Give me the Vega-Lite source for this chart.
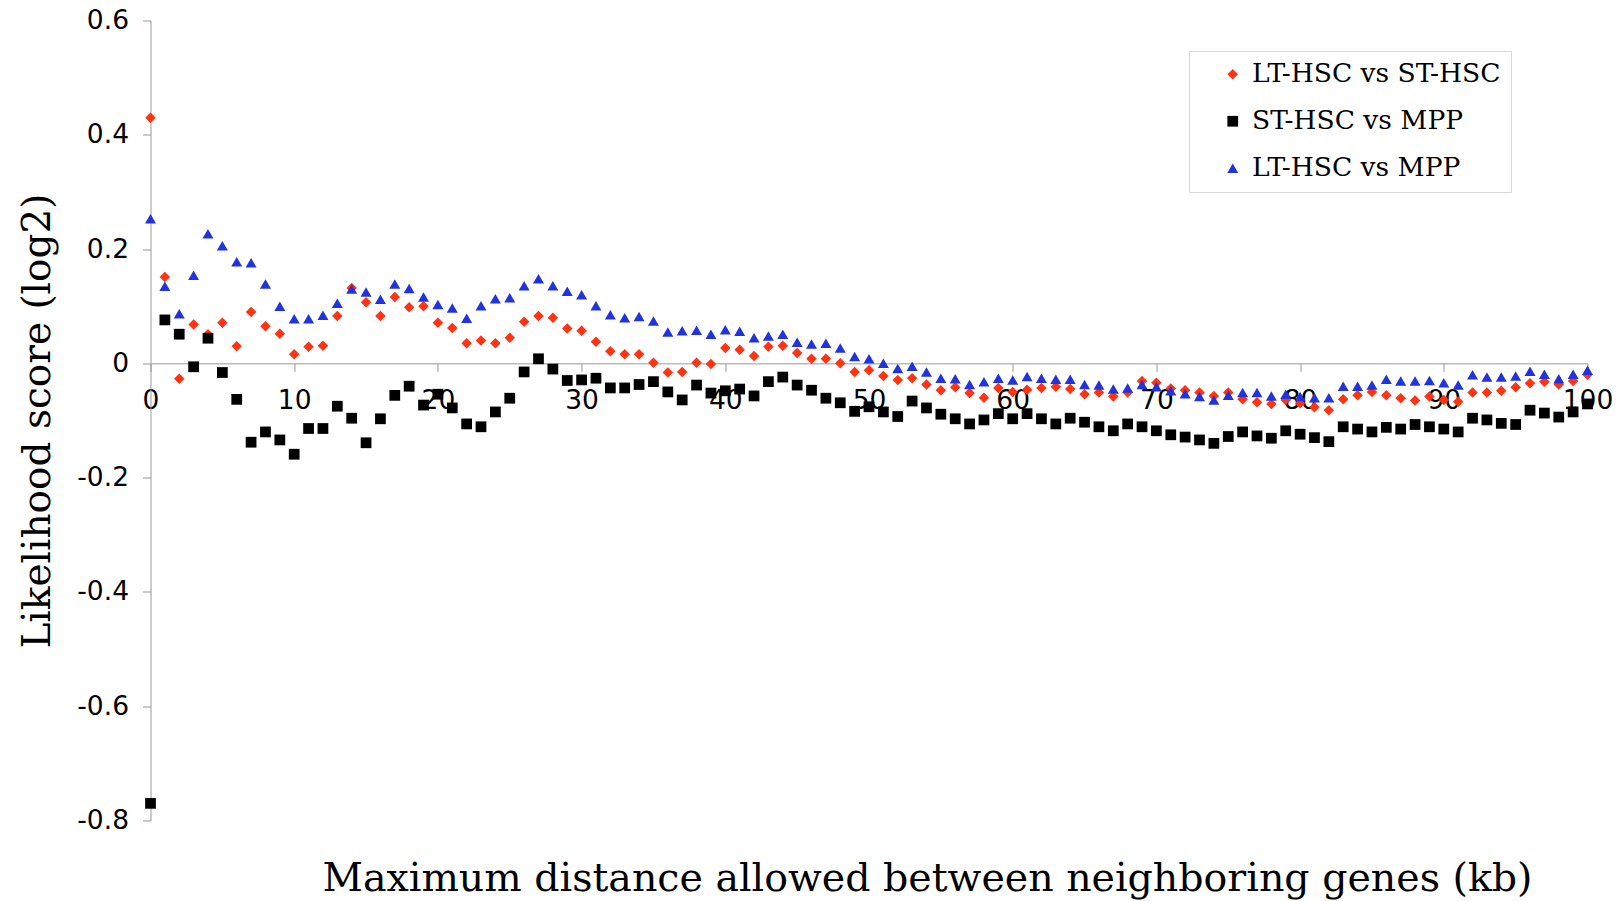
{
"$schema": "https://vega.github.io/schema/vega-lite/v6.json",
"width": 1437, "height": 800,
"autosize": {"type": "none"},
"padding": {"left": 150.5, "top": 20.5, "right": 30.5, "bottom": 80.5},
"background": "white",
"config": {"view": {"stroke": null}, "axis": {"grid": false}},
"datasets": {"pts": [
{"dist":0,"score":0.430,"series":"LT-HSC vs ST-HSC"},{"dist":1,"score":0.151,"series":"LT-HSC vs ST-HSC"},{"dist":2,"score":-0.027,"series":"LT-HSC vs ST-HSC"},{"dist":3,"score":0.068,"series":"LT-HSC vs ST-HSC"},{"dist":4,"score":0.051,"series":"LT-HSC vs ST-HSC"},{"dist":5,"score":0.071,"series":"LT-HSC vs ST-HSC"},{"dist":6,"score":0.030,"series":"LT-HSC vs ST-HSC"},{"dist":7,"score":0.090,"series":"LT-HSC vs ST-HSC"},{"dist":8,"score":0.065,"series":"LT-HSC vs ST-HSC"},{"dist":9,"score":0.052,"series":"LT-HSC vs ST-HSC"},
{"dist":10,"score":0.016,"series":"LT-HSC vs ST-HSC"},{"dist":11,"score":0.029,"series":"LT-HSC vs ST-HSC"},{"dist":12,"score":0.031,"series":"LT-HSC vs ST-HSC"},{"dist":13,"score":0.083,"series":"LT-HSC vs ST-HSC"},{"dist":14,"score":0.132,"series":"LT-HSC vs ST-HSC"},{"dist":15,"score":0.107,"series":"LT-HSC vs ST-HSC"},{"dist":16,"score":0.083,"series":"LT-HSC vs ST-HSC"},{"dist":17,"score":0.116,"series":"LT-HSC vs ST-HSC"},{"dist":18,"score":0.098,"series":"LT-HSC vs ST-HSC"},{"dist":19,"score":0.100,"series":"LT-HSC vs ST-HSC"},
{"dist":20,"score":0.071,"series":"LT-HSC vs ST-HSC"},{"dist":21,"score":0.062,"series":"LT-HSC vs ST-HSC"},{"dist":22,"score":0.035,"series":"LT-HSC vs ST-HSC"},{"dist":23,"score":0.040,"series":"LT-HSC vs ST-HSC"},{"dist":24,"score":0.035,"series":"LT-HSC vs ST-HSC"},{"dist":25,"score":0.045,"series":"LT-HSC vs ST-HSC"},{"dist":26,"score":0.073,"series":"LT-HSC vs ST-HSC"},{"dist":27,"score":0.083,"series":"LT-HSC vs ST-HSC"},{"dist":28,"score":0.080,"series":"LT-HSC vs ST-HSC"},{"dist":29,"score":0.061,"series":"LT-HSC vs ST-HSC"},
{"dist":30,"score":0.057,"series":"LT-HSC vs ST-HSC"},{"dist":31,"score":0.038,"series":"LT-HSC vs ST-HSC"},{"dist":32,"score":0.021,"series":"LT-HSC vs ST-HSC"},{"dist":33,"score":0.016,"series":"LT-HSC vs ST-HSC"},{"dist":34,"score":0.016,"series":"LT-HSC vs ST-HSC"},{"dist":35,"score":0.001,"series":"LT-HSC vs ST-HSC"},{"dist":36,"score":-0.016,"series":"LT-HSC vs ST-HSC"},{"dist":37,"score":-0.015,"series":"LT-HSC vs ST-HSC"},{"dist":38,"score":0.001,"series":"LT-HSC vs ST-HSC"},{"dist":39,"score":-0.001,"series":"LT-HSC vs ST-HSC"},
{"dist":40,"score":0.027,"series":"LT-HSC vs ST-HSC"},{"dist":41,"score":0.024,"series":"LT-HSC vs ST-HSC"},{"dist":42,"score":0.013,"series":"LT-HSC vs ST-HSC"},{"dist":43,"score":0.029,"series":"LT-HSC vs ST-HSC"},{"dist":44,"score":0.031,"series":"LT-HSC vs ST-HSC"},{"dist":45,"score":0.018,"series":"LT-HSC vs ST-HSC"},{"dist":46,"score":0.008,"series":"LT-HSC vs ST-HSC"},{"dist":47,"score":0.008,"series":"LT-HSC vs ST-HSC"},{"dist":48,"score":0.000,"series":"LT-HSC vs ST-HSC"},{"dist":49,"score":-0.015,"series":"LT-HSC vs ST-HSC"},
{"dist":50,"score":-0.012,"series":"LT-HSC vs ST-HSC"},{"dist":51,"score":-0.022,"series":"LT-HSC vs ST-HSC"},{"dist":52,"score":-0.029,"series":"LT-HSC vs ST-HSC"},{"dist":53,"score":-0.026,"series":"LT-HSC vs ST-HSC"},{"dist":54,"score":-0.037,"series":"LT-HSC vs ST-HSC"},{"dist":55,"score":-0.047,"series":"LT-HSC vs ST-HSC"},{"dist":56,"score":-0.042,"series":"LT-HSC vs ST-HSC"},{"dist":57,"score":-0.052,"series":"LT-HSC vs ST-HSC"},{"dist":58,"score":-0.060,"series":"LT-HSC vs ST-HSC"},{"dist":59,"score":-0.043,"series":"LT-HSC vs ST-HSC"},
{"dist":60,"score":-0.050,"series":"LT-HSC vs ST-HSC"},{"dist":61,"score":-0.046,"series":"LT-HSC vs ST-HSC"},{"dist":62,"score":-0.043,"series":"LT-HSC vs ST-HSC"},{"dist":63,"score":-0.041,"series":"LT-HSC vs ST-HSC"},{"dist":64,"score":-0.045,"series":"LT-HSC vs ST-HSC"},{"dist":65,"score":-0.054,"series":"LT-HSC vs ST-HSC"},{"dist":66,"score":-0.051,"series":"LT-HSC vs ST-HSC"},{"dist":67,"score":-0.058,"series":"LT-HSC vs ST-HSC"},{"dist":68,"score":-0.051,"series":"LT-HSC vs ST-HSC"},{"dist":69,"score":-0.031,"series":"LT-HSC vs ST-HSC"},
{"dist":70,"score":-0.034,"series":"LT-HSC vs ST-HSC"},{"dist":71,"score":-0.044,"series":"LT-HSC vs ST-HSC"},{"dist":72,"score":-0.047,"series":"LT-HSC vs ST-HSC"},{"dist":73,"score":-0.051,"series":"LT-HSC vs ST-HSC"},{"dist":74,"score":-0.057,"series":"LT-HSC vs ST-HSC"},{"dist":75,"score":-0.051,"series":"LT-HSC vs ST-HSC"},{"dist":76,"score":-0.063,"series":"LT-HSC vs ST-HSC"},{"dist":77,"score":-0.068,"series":"LT-HSC vs ST-HSC"},{"dist":78,"score":-0.071,"series":"LT-HSC vs ST-HSC"},{"dist":79,"score":-0.064,"series":"LT-HSC vs ST-HSC"},
{"dist":80,"score":-0.070,"series":"LT-HSC vs ST-HSC"},{"dist":81,"score":-0.077,"series":"LT-HSC vs ST-HSC"},{"dist":82,"score":-0.082,"series":"LT-HSC vs ST-HSC"},{"dist":83,"score":-0.063,"series":"LT-HSC vs ST-HSC"},{"dist":84,"score":-0.056,"series":"LT-HSC vs ST-HSC"},{"dist":85,"score":-0.050,"series":"LT-HSC vs ST-HSC"},{"dist":86,"score":-0.056,"series":"LT-HSC vs ST-HSC"},{"dist":87,"score":-0.061,"series":"LT-HSC vs ST-HSC"},{"dist":88,"score":-0.065,"series":"LT-HSC vs ST-HSC"},{"dist":89,"score":-0.058,"series":"LT-HSC vs ST-HSC"},
{"dist":90,"score":-0.064,"series":"LT-HSC vs ST-HSC"},{"dist":91,"score":-0.067,"series":"LT-HSC vs ST-HSC"},{"dist":92,"score":-0.051,"series":"LT-HSC vs ST-HSC"},{"dist":93,"score":-0.051,"series":"LT-HSC vs ST-HSC"},{"dist":94,"score":-0.048,"series":"LT-HSC vs ST-HSC"},{"dist":95,"score":-0.042,"series":"LT-HSC vs ST-HSC"},{"dist":96,"score":-0.035,"series":"LT-HSC vs ST-HSC"},{"dist":97,"score":-0.032,"series":"LT-HSC vs ST-HSC"},{"dist":98,"score":-0.037,"series":"LT-HSC vs ST-HSC"},{"dist":99,"score":-0.031,"series":"LT-HSC vs ST-HSC"},
{"dist":100,"score":-0.020,"series":"LT-HSC vs ST-HSC"},
{"dist":0,"score":-0.770,"series":"ST-HSC vs MPP"},{"dist":1,"score":0.076,"series":"ST-HSC vs MPP"},{"dist":2,"score":0.051,"series":"ST-HSC vs MPP"},{"dist":3,"score":-0.006,"series":"ST-HSC vs MPP"},{"dist":4,"score":0.044,"series":"ST-HSC vs MPP"},{"dist":5,"score":-0.016,"series":"ST-HSC vs MPP"},{"dist":6,"score":-0.063,"series":"ST-HSC vs MPP"},{"dist":7,"score":-0.138,"series":"ST-HSC vs MPP"},{"dist":8,"score":-0.120,"series":"ST-HSC vs MPP"},{"dist":9,"score":-0.134,"series":"ST-HSC vs MPP"},
{"dist":10,"score":-0.159,"series":"ST-HSC vs MPP"},{"dist":11,"score":-0.114,"series":"ST-HSC vs MPP"},{"dist":12,"score":-0.114,"series":"ST-HSC vs MPP"},{"dist":13,"score":-0.075,"series":"ST-HSC vs MPP"},{"dist":14,"score":-0.096,"series":"ST-HSC vs MPP"},{"dist":15,"score":-0.139,"series":"ST-HSC vs MPP"},{"dist":16,"score":-0.097,"series":"ST-HSC vs MPP"},{"dist":17,"score":-0.056,"series":"ST-HSC vs MPP"},{"dist":18,"score":-0.040,"series":"ST-HSC vs MPP"},{"dist":19,"score":-0.073,"series":"ST-HSC vs MPP"},
{"dist":20,"score":-0.054,"series":"ST-HSC vs MPP"},{"dist":21,"score":-0.078,"series":"ST-HSC vs MPP"},{"dist":22,"score":-0.106,"series":"ST-HSC vs MPP"},{"dist":23,"score":-0.111,"series":"ST-HSC vs MPP"},{"dist":24,"score":-0.085,"series":"ST-HSC vs MPP"},{"dist":25,"score":-0.061,"series":"ST-HSC vs MPP"},{"dist":26,"score":-0.015,"series":"ST-HSC vs MPP"},{"dist":27,"score":0.008,"series":"ST-HSC vs MPP"},{"dist":28,"score":-0.010,"series":"ST-HSC vs MPP"},{"dist":29,"score":-0.030,"series":"ST-HSC vs MPP"},
{"dist":30,"score":-0.029,"series":"ST-HSC vs MPP"},{"dist":31,"score":-0.026,"series":"ST-HSC vs MPP"},{"dist":32,"score":-0.043,"series":"ST-HSC vs MPP"},{"dist":33,"score":-0.043,"series":"ST-HSC vs MPP"},{"dist":34,"score":-0.037,"series":"ST-HSC vs MPP"},{"dist":35,"score":-0.032,"series":"ST-HSC vs MPP"},{"dist":36,"score":-0.050,"series":"ST-HSC vs MPP"},{"dist":37,"score":-0.064,"series":"ST-HSC vs MPP"},{"dist":38,"score":-0.038,"series":"ST-HSC vs MPP"},{"dist":39,"score":-0.052,"series":"ST-HSC vs MPP"},
{"dist":40,"score":-0.048,"series":"ST-HSC vs MPP"},{"dist":41,"score":-0.045,"series":"ST-HSC vs MPP"},{"dist":42,"score":-0.057,"series":"ST-HSC vs MPP"},{"dist":43,"score":-0.032,"series":"ST-HSC vs MPP"},{"dist":44,"score":-0.024,"series":"ST-HSC vs MPP"},{"dist":45,"score":-0.038,"series":"ST-HSC vs MPP"},{"dist":46,"score":-0.047,"series":"ST-HSC vs MPP"},{"dist":47,"score":-0.061,"series":"ST-HSC vs MPP"},{"dist":48,"score":-0.069,"series":"ST-HSC vs MPP"},{"dist":49,"score":-0.084,"series":"ST-HSC vs MPP"},
{"dist":50,"score":-0.076,"series":"ST-HSC vs MPP"},{"dist":51,"score":-0.085,"series":"ST-HSC vs MPP"},{"dist":52,"score":-0.093,"series":"ST-HSC vs MPP"},{"dist":53,"score":-0.066,"series":"ST-HSC vs MPP"},{"dist":54,"score":-0.078,"series":"ST-HSC vs MPP"},{"dist":55,"score":-0.089,"series":"ST-HSC vs MPP"},{"dist":56,"score":-0.097,"series":"ST-HSC vs MPP"},{"dist":57,"score":-0.106,"series":"ST-HSC vs MPP"},{"dist":58,"score":-0.099,"series":"ST-HSC vs MPP"},{"dist":59,"score":-0.088,"series":"ST-HSC vs MPP"},
{"dist":60,"score":-0.097,"series":"ST-HSC vs MPP"},{"dist":61,"score":-0.088,"series":"ST-HSC vs MPP"},{"dist":62,"score":-0.097,"series":"ST-HSC vs MPP"},{"dist":63,"score":-0.106,"series":"ST-HSC vs MPP"},{"dist":64,"score":-0.096,"series":"ST-HSC vs MPP"},{"dist":65,"score":-0.103,"series":"ST-HSC vs MPP"},{"dist":66,"score":-0.111,"series":"ST-HSC vs MPP"},{"dist":67,"score":-0.118,"series":"ST-HSC vs MPP"},{"dist":68,"score":-0.106,"series":"ST-HSC vs MPP"},{"dist":69,"score":-0.111,"series":"ST-HSC vs MPP"},
{"dist":70,"score":-0.118,"series":"ST-HSC vs MPP"},{"dist":71,"score":-0.125,"series":"ST-HSC vs MPP"},{"dist":72,"score":-0.129,"series":"ST-HSC vs MPP"},{"dist":73,"score":-0.134,"series":"ST-HSC vs MPP"},{"dist":74,"score":-0.140,"series":"ST-HSC vs MPP"},{"dist":75,"score":-0.128,"series":"ST-HSC vs MPP"},{"dist":76,"score":-0.120,"series":"ST-HSC vs MPP"},{"dist":77,"score":-0.127,"series":"ST-HSC vs MPP"},{"dist":78,"score":-0.131,"series":"ST-HSC vs MPP"},{"dist":79,"score":-0.118,"series":"ST-HSC vs MPP"},
{"dist":80,"score":-0.124,"series":"ST-HSC vs MPP"},{"dist":81,"score":-0.130,"series":"ST-HSC vs MPP"},{"dist":82,"score":-0.137,"series":"ST-HSC vs MPP"},{"dist":83,"score":-0.111,"series":"ST-HSC vs MPP"},{"dist":84,"score":-0.115,"series":"ST-HSC vs MPP"},{"dist":85,"score":-0.120,"series":"ST-HSC vs MPP"},{"dist":86,"score":-0.112,"series":"ST-HSC vs MPP"},{"dist":87,"score":-0.115,"series":"ST-HSC vs MPP"},{"dist":88,"score":-0.107,"series":"ST-HSC vs MPP"},{"dist":89,"score":-0.111,"series":"ST-HSC vs MPP"},
{"dist":90,"score":-0.115,"series":"ST-HSC vs MPP"},{"dist":91,"score":-0.120,"series":"ST-HSC vs MPP"},{"dist":92,"score":-0.096,"series":"ST-HSC vs MPP"},{"dist":93,"score":-0.099,"series":"ST-HSC vs MPP"},{"dist":94,"score":-0.105,"series":"ST-HSC vs MPP"},{"dist":95,"score":-0.107,"series":"ST-HSC vs MPP"},{"dist":96,"score":-0.082,"series":"ST-HSC vs MPP"},{"dist":97,"score":-0.087,"series":"ST-HSC vs MPP"},{"dist":98,"score":-0.094,"series":"ST-HSC vs MPP"},{"dist":99,"score":-0.085,"series":"ST-HSC vs MPP"},
{"dist":100,"score":-0.071,"series":"ST-HSC vs MPP"},
{"dist":0,"score":0.253,"series":"LT-HSC vs MPP"},{"dist":1,"score":0.135,"series":"LT-HSC vs MPP"},{"dist":2,"score":0.087,"series":"LT-HSC vs MPP"},{"dist":3,"score":0.154,"series":"LT-HSC vs MPP"},{"dist":4,"score":0.227,"series":"LT-HSC vs MPP"},{"dist":5,"score":0.206,"series":"LT-HSC vs MPP"},{"dist":6,"score":0.178,"series":"LT-HSC vs MPP"},{"dist":7,"score":0.176,"series":"LT-HSC vs MPP"},{"dist":8,"score":0.139,"series":"LT-HSC vs MPP"},{"dist":9,"score":0.100,"series":"LT-HSC vs MPP"},
{"dist":10,"score":0.078,"series":"LT-HSC vs MPP"},{"dist":11,"score":0.078,"series":"LT-HSC vs MPP"},{"dist":12,"score":0.084,"series":"LT-HSC vs MPP"},{"dist":13,"score":0.105,"series":"LT-HSC vs MPP"},{"dist":14,"score":0.130,"series":"LT-HSC vs MPP"},{"dist":15,"score":0.125,"series":"LT-HSC vs MPP"},{"dist":16,"score":0.112,"series":"LT-HSC vs MPP"},{"dist":17,"score":0.139,"series":"LT-HSC vs MPP"},{"dist":18,"score":0.131,"series":"LT-HSC vs MPP"},{"dist":19,"score":0.116,"series":"LT-HSC vs MPP"},
{"dist":20,"score":0.103,"series":"LT-HSC vs MPP"},{"dist":21,"score":0.097,"series":"LT-HSC vs MPP"},{"dist":22,"score":0.079,"series":"LT-HSC vs MPP"},{"dist":23,"score":0.101,"series":"LT-HSC vs MPP"},{"dist":24,"score":0.113,"series":"LT-HSC vs MPP"},{"dist":25,"score":0.115,"series":"LT-HSC vs MPP"},{"dist":26,"score":0.136,"series":"LT-HSC vs MPP"},{"dist":27,"score":0.148,"series":"LT-HSC vs MPP"},{"dist":28,"score":0.136,"series":"LT-HSC vs MPP"},{"dist":29,"score":0.126,"series":"LT-HSC vs MPP"},
{"dist":30,"score":0.120,"series":"LT-HSC vs MPP"},{"dist":31,"score":0.101,"series":"LT-HSC vs MPP"},{"dist":32,"score":0.085,"series":"LT-HSC vs MPP"},{"dist":33,"score":0.080,"series":"LT-HSC vs MPP"},{"dist":34,"score":0.082,"series":"LT-HSC vs MPP"},{"dist":35,"score":0.074,"series":"LT-HSC vs MPP"},{"dist":36,"score":0.055,"series":"LT-HSC vs MPP"},{"dist":37,"score":0.057,"series":"LT-HSC vs MPP"},{"dist":38,"score":0.058,"series":"LT-HSC vs MPP"},{"dist":39,"score":0.051,"series":"LT-HSC vs MPP"},
{"dist":40,"score":0.059,"series":"LT-HSC vs MPP"},{"dist":41,"score":0.056,"series":"LT-HSC vs MPP"},{"dist":42,"score":0.045,"series":"LT-HSC vs MPP"},{"dist":43,"score":0.048,"series":"LT-HSC vs MPP"},{"dist":44,"score":0.051,"series":"LT-HSC vs MPP"},{"dist":45,"score":0.037,"series":"LT-HSC vs MPP"},{"dist":46,"score":0.034,"series":"LT-HSC vs MPP"},{"dist":47,"score":0.035,"series":"LT-HSC vs MPP"},{"dist":48,"score":0.027,"series":"LT-HSC vs MPP"},{"dist":49,"score":0.012,"series":"LT-HSC vs MPP"},
{"dist":50,"score":0.008,"series":"LT-HSC vs MPP"},{"dist":51,"score":0.000,"series":"LT-HSC vs MPP"},{"dist":52,"score":-0.009,"series":"LT-HSC vs MPP"},{"dist":53,"score":-0.005,"series":"LT-HSC vs MPP"},{"dist":54,"score":-0.015,"series":"LT-HSC vs MPP"},{"dist":55,"score":-0.026,"series":"LT-HSC vs MPP"},{"dist":56,"score":-0.027,"series":"LT-HSC vs MPP"},{"dist":57,"score":-0.037,"series":"LT-HSC vs MPP"},{"dist":58,"score":-0.032,"series":"LT-HSC vs MPP"},{"dist":59,"score":-0.026,"series":"LT-HSC vs MPP"},
{"dist":60,"score":-0.029,"series":"LT-HSC vs MPP"},{"dist":61,"score":-0.023,"series":"LT-HSC vs MPP"},{"dist":62,"score":-0.026,"series":"LT-HSC vs MPP"},{"dist":63,"score":-0.028,"series":"LT-HSC vs MPP"},{"dist":64,"score":-0.028,"series":"LT-HSC vs MPP"},{"dist":65,"score":-0.037,"series":"LT-HSC vs MPP"},{"dist":66,"score":-0.038,"series":"LT-HSC vs MPP"},{"dist":67,"score":-0.045,"series":"LT-HSC vs MPP"},{"dist":68,"score":-0.043,"series":"LT-HSC vs MPP"},{"dist":69,"score":-0.037,"series":"LT-HSC vs MPP"},
{"dist":70,"score":-0.041,"series":"LT-HSC vs MPP"},{"dist":71,"score":-0.048,"series":"LT-HSC vs MPP"},{"dist":72,"score":-0.053,"series":"LT-HSC vs MPP"},{"dist":73,"score":-0.058,"series":"LT-HSC vs MPP"},{"dist":74,"score":-0.064,"series":"LT-HSC vs MPP"},{"dist":75,"score":-0.056,"series":"LT-HSC vs MPP"},{"dist":76,"score":-0.051,"series":"LT-HSC vs MPP"},{"dist":77,"score":-0.051,"series":"LT-HSC vs MPP"},{"dist":78,"score":-0.057,"series":"LT-HSC vs MPP"},{"dist":79,"score":-0.054,"series":"LT-HSC vs MPP"},
{"dist":80,"score":-0.058,"series":"LT-HSC vs MPP"},{"dist":81,"score":-0.060,"series":"LT-HSC vs MPP"},{"dist":82,"score":-0.060,"series":"LT-HSC vs MPP"},{"dist":83,"score":-0.040,"series":"LT-HSC vs MPP"},{"dist":84,"score":-0.040,"series":"LT-HSC vs MPP"},{"dist":85,"score":-0.038,"series":"LT-HSC vs MPP"},{"dist":86,"score":-0.028,"series":"LT-HSC vs MPP"},{"dist":87,"score":-0.031,"series":"LT-HSC vs MPP"},{"dist":88,"score":-0.031,"series":"LT-HSC vs MPP"},{"dist":89,"score":-0.030,"series":"LT-HSC vs MPP"},
{"dist":90,"score":-0.034,"series":"LT-HSC vs MPP"},{"dist":91,"score":-0.038,"series":"LT-HSC vs MPP"},{"dist":92,"score":-0.020,"series":"LT-HSC vs MPP"},{"dist":93,"score":-0.024,"series":"LT-HSC vs MPP"},{"dist":94,"score":-0.024,"series":"LT-HSC vs MPP"},{"dist":95,"score":-0.022,"series":"LT-HSC vs MPP"},{"dist":96,"score":-0.014,"series":"LT-HSC vs MPP"},{"dist":97,"score":-0.019,"series":"LT-HSC vs MPP"},{"dist":98,"score":-0.027,"series":"LT-HSC vs MPP"},{"dist":99,"score":-0.019,"series":"LT-HSC vs MPP"},
{"dist":100,"score":-0.012,"series":"LT-HSC vs MPP"}
]},
"data": {"name": "pts"},
"mark": {"type": "point", "filled": true, "opacity": 1, "strokeWidth": 0},
"encoding": {
  "x": {"field": "dist", "type": "quantitative",
    "scale": {"domain": [0, 100], "nice": false, "zero": false},
    "axis": {"values": [0,10,20,30,40,50,60,70,80,90,100], "offset": -457.14,
      "title": "Maximum distance allowed between neighboring genes (kb)",
      "titleFont": "DejaVu Serif", "titleFontSize": 39.5, "titleFontWeight": "normal", "titleColor": "#000",
      "titleX": 776.5, "titleY": 527, "titleAlign": "center", "titleBaseline": "alphabetic", "titleAngle": 0,
      "labelFont": "DejaVu Sans", "labelFontSize": 26.5, "labelColor": "#000", "labelPadding": 16,
      "labelFlush": false, "labelOverlap": false, "labelBound": false,
      "tickSize": 8, "tickColor": "#999", "domainColor": "#999", "tickWidth": 1, "domainWidth": 1}},
  "y": {"field": "score", "type": "quantitative",
    "scale": {"domain": [-0.8, 0.6], "nice": false, "zero": false},
    "axis": {"values": [-0.8,-0.6,-0.4,-0.2,0,0.2,0.4,0.6],
      "labelExpr": "datum.value == 0 ? '0' : toString(datum.value)",
      "title": "Likelihood score (log2)",
      "titleFont": "DejaVu Serif", "titleFontSize": 39, "titleFontWeight": "normal", "titleColor": "#000",
      "titleX": -101.5, "titleY": 400, "titleAlign": "center", "titleBaseline": "alphabetic", "titleAngle": -90,
      "labelFont": "DejaVu Sans", "labelFontSize": 26.5, "labelColor": "#000", "labelPadding": 14,
      "labelFlush": false, "labelOverlap": false, "labelBound": false,
      "tickSize": 8, "tickColor": "#999", "domainColor": "#999", "tickWidth": 1, "domainWidth": 1}},
  "color": {"field": "series", "type": "nominal",
    "scale": {"domain": ["LT-HSC vs ST-HSC", "ST-HSC vs MPP", "LT-HSC vs MPP"], "range": ["#FF3311", "#000000", "#2233DD"]},
    "legend": {"orient": "none", "legendX": 1038.5, "legendY": 30.5, "title": null,
      "labelFont": "DejaVu Serif", "labelFontSize": 26.5, "labelColor": "#000", "labelOffset": 6, "labelLimit": 500,
      "symbolSize": 110, "symbolOffset": 20.5, "symbolStrokeWidth": 0, "rowPadding": 20, "padding": 10,
      "fillColor": "white", "strokeColor": "#d8d8d8"}},
  "shape": {"field": "series", "type": "nominal",
    "scale": {"domain": ["LT-HSC vs ST-HSC", "ST-HSC vs MPP", "LT-HSC vs MPP"], "range": ["diamond", "square", "triangle-up"]}},
  "size": {"field": "series", "type": "nominal",
    "scale": {"domain": ["LT-HSC vs ST-HSC", "ST-HSC vs MPP", "LT-HSC vs MPP"], "range": [110, 121, 115]}, "legend": null}
}
}
